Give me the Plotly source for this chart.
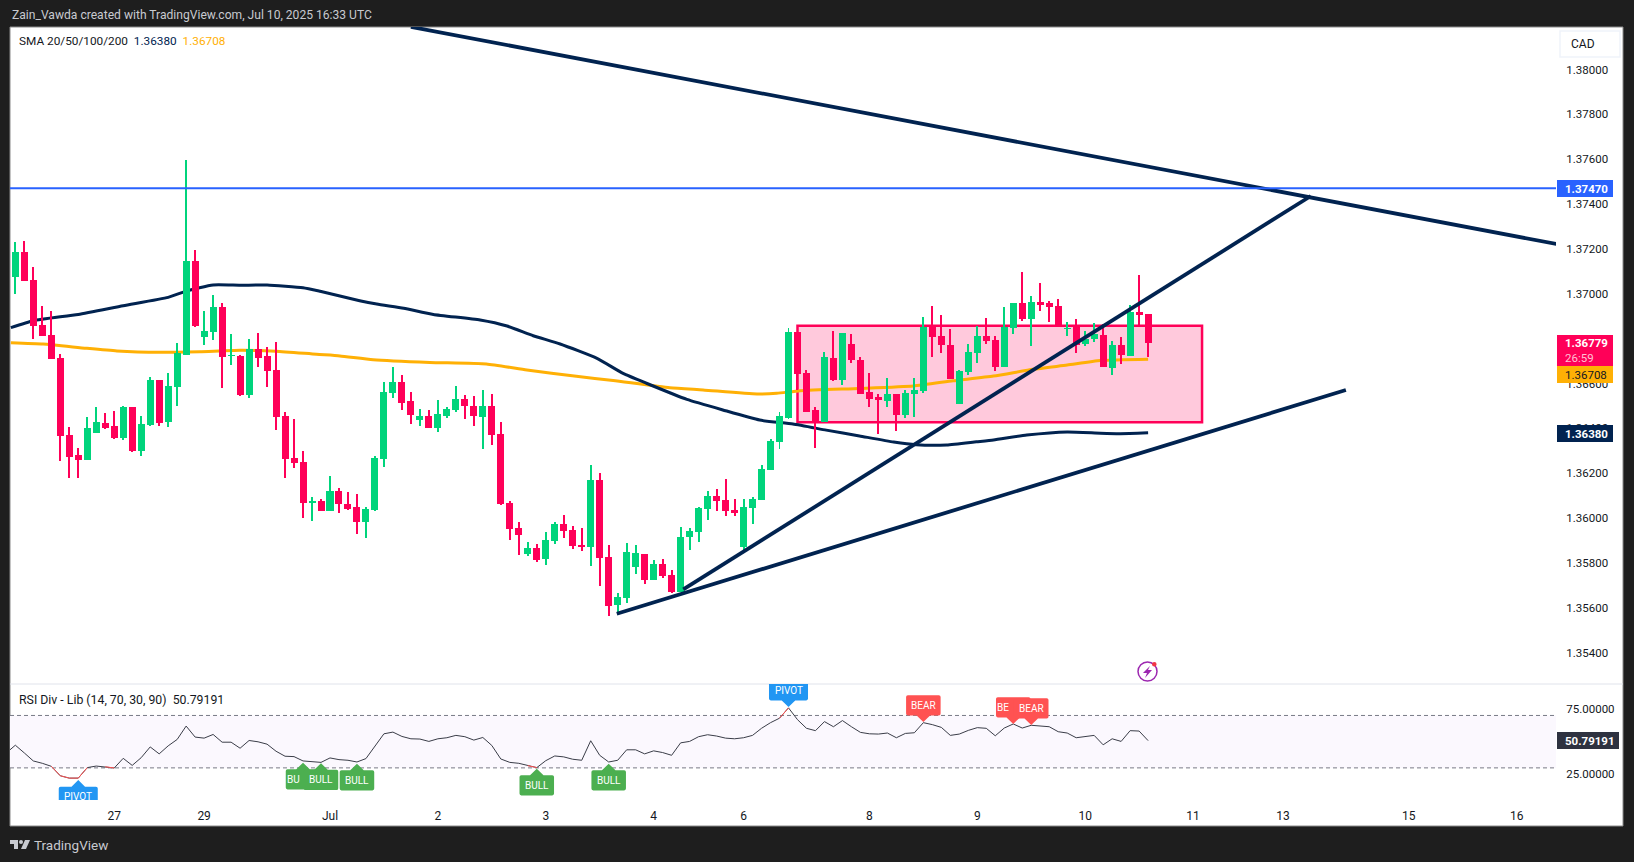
import plotly.graph_objs as go

W = 1634
H = 862
FONT = "Roboto"

OPEN = [1.37076,1.37186,1.37062,1.36861,1.36816,1.36714,1.36371,1.36281,1.36261,1.36381,1.36424,1.36411,1.36357,1.36495,1.36301,1.36415,1.36616,1.36430,1.36586,1.36729,
        1.37146,1.36809,1.36831,1.36941,1.36723,1.36723,1.36550,1.36754,1.36723,1.36660,1.36455,1.36268,1.36250,1.36069,1.36076,1.36033,1.36121,1.36063,1.36050,1.35984,
        1.36036,1.36264,1.36558,1.36607,1.36522,1.36437,1.36455,1.36402,1.36455,1.36482,1.36531,1.36500,1.36451,1.36500,1.36375,1.36067,1.35956,1.35840,1.35867,1.35818,
        1.35898,1.35974,1.35947,1.35880,1.35871,1.36170,1.35827,1.35613,1.35644,1.35782,1.35840,1.35724,1.35795,1.35746,1.35670,1.35915,1.35938,1.36040,1.36098,1.36080,
        1.36036,1.35871,1.36045,1.36080,1.36214,1.36339,1.36446,1.36829,1.36647,1.36482,1.36428,1.36713,1.36615,1.36776,1.36705,1.36562,1.36540,1.36522,1.36553,1.36459,
        1.36553,1.36566,1.36852,1.36812,1.36771,1.36508,1.36651,1.36736,1.36812,1.36794,1.36673,1.36847,1.36959,1.36887,1.36963,1.36959,1.36945,1.36843,1.36852,1.36776,
        1.36798,1.36816,1.36669,1.36771,1.36722,1.36919,1.36910]
HIGH = [1.37231,1.37235,1.37120,1.36946,1.36923,1.36732,1.36406,1.36313,1.36451,1.36495,1.36469,1.36478,1.36500,1.36495,1.36455,1.36629,1.36616,1.36647,1.36781,1.37596,
        1.37195,1.36923,1.36995,1.36959,1.36821,1.36727,1.36799,1.36825,1.36763,1.36785,1.36473,1.36442,1.36299,1.36094,1.36085,1.36188,1.36134,1.36116,1.36107,1.36050,
        1.36277,1.36607,1.36674,1.36638,1.36562,1.36486,1.36482,1.36527,1.36495,1.36589,1.36549,1.36544,1.36571,1.36553,1.36428,1.36076,1.35983,1.35893,1.35885,1.35938,
        1.35983,1.36014,1.35965,1.35956,1.36237,1.36201,1.35880,1.35666,1.35889,1.35880,1.35840,1.35813,1.35818,1.35768,1.35960,1.35956,1.36049,1.36121,1.36129,1.36174,
        1.36085,1.36085,1.36094,1.36236,1.36352,1.36473,1.36847,1.36829,1.36660,1.36495,1.36740,1.36834,1.36825,1.36820,1.36718,1.36647,1.36553,1.36624,1.36553,1.36571,
        1.36624,1.36896,1.36945,1.36905,1.36843,1.36660,1.36776,1.36856,1.36892,1.36812,1.36941,1.36959,1.37097,1.36990,1.37048,1.36968,1.36977,1.36874,1.36887,1.36834,
        1.36870,1.36865,1.36789,1.36807,1.36950,1.37084,1.36910]
LOW = [1.37001,1.37058,1.36800,1.36813,1.36711,1.36256,1.36180,1.36180,1.36261,1.36381,1.36397,1.36353,1.36348,1.36296,1.36277,1.36411,1.36411,1.36406,1.36500,1.36729,
       1.36852,1.36772,1.36794,1.36580,1.36683,1.36544,1.36535,1.36674,1.36585,1.36393,1.36179,1.36223,1.36001,1.35987,1.36033,1.36033,1.36024,1.36036,1.35929,1.35911,
       1.36032,1.36228,1.36535,1.36482,1.36420,1.36411,1.36402,1.36384,1.36446,1.36473,1.36442,1.36411,1.36308,1.36326,1.36058,1.35902,1.35836,1.35831,1.35804,1.35791,
       1.35885,1.35911,1.35862,1.35853,1.35786,1.35697,1.35564,1.35573,1.35622,1.35751,1.35706,1.35724,1.35733,1.35666,1.35670,1.35857,1.35893,1.35991,1.36031,1.36009,
       1.36009,1.35849,1.35973,1.36080,1.36214,1.36308,1.36442,1.36571,1.36473,1.36312,1.36428,1.36611,1.36593,1.36691,1.36553,1.36495,1.36375,1.36495,1.36388,1.36446,
       1.36450,1.36557,1.36718,1.36736,1.36620,1.36508,1.36638,1.36691,1.36776,1.36655,1.36673,1.36821,1.36878,1.36767,1.36923,1.36874,1.36856,1.36812,1.36736,1.36767,
       1.36785,1.36673,1.36638,1.36687,1.36722,1.36856,1.36718]
CLOSE = [1.37186,1.37058,1.36858,1.36813,1.36711,1.36368,1.36274,1.36261,1.36402,1.36428,1.36403,1.36357,1.36495,1.36301,1.36420,1.36616,1.36426,1.36589,1.36736,1.37146,
         1.36856,1.36834,1.36941,1.36720,1.36727,1.36550,1.36754,1.36715,1.36657,1.36452,1.36265,1.36247,1.36069,1.36076,1.36033,1.36121,1.36064,1.36041,1.35984,1.36041,
         1.36268,1.36562,1.36607,1.36513,1.36460,1.36455,1.36402,1.36464,1.36486,1.36531,1.36500,1.36455,1.36500,1.36370,1.36063,1.35951,1.35925,1.35867,1.35813,1.35902,
         1.35974,1.35943,1.35876,1.35871,1.36170,1.35822,1.35608,1.35648,1.35849,1.35844,1.35724,1.35795,1.35742,1.35670,1.35915,1.35942,1.36045,1.36098,1.36076,1.36031,
         1.36022,1.36049,1.36085,1.36219,1.36343,1.36455,1.36829,1.36642,1.36473,1.36428,1.36718,1.36615,1.36825,1.36705,1.36553,1.36531,1.36526,1.36553,1.36459,1.36557,
         1.36571,1.36852,1.36807,1.36771,1.36620,1.36655,1.36740,1.36812,1.36789,1.36673,1.36852,1.36959,1.36887,1.36963,1.36950,1.36941,1.36856,1.36847,1.36771,1.36798,
         1.36821,1.36673,1.36771,1.36727,1.36919,1.36905,1.36779]

SMA_NAVY_X = [-0.5,2,7,12,17,19,22,25,28,32,33.9,38.3,40.2,43.2,46.5,51.7,54.7,57.6,60.6,64.7,67.6,70.2,74.7,78.7,82.8,86.5,90.2,93.9,97.7,100.2,103.6,106.9,108.8,112.5,117,120.7,122.9,126]
SMA_NAVY = [1.36849,1.36880,1.36908,1.36947,1.36984,1.37012,1.37039,1.37038,1.37039,1.37027,1.37011,1.36969,1.36954,1.36935,1.36908,1.36883,1.36856,1.36813,1.36776,1.36712,1.36645,1.36601,1.36529,1.36482,1.36437,1.36419,1.36392,1.36366,1.36339,1.36327,1.36326,1.36340,1.36348,1.36370,1.36384,1.36378,1.36376,1.36380]
SMA_ORANGE_X = [-0.5,3.1,7.9,11.3,16.1,20.5,25,29,33.5,36.1,39.8,46.1,52.4,56.9,62.4,66.5,72.8,76.5,82.5,84.7,87.3,93.9,99.9,104.3,108.8,113.2,117,120.7,126]
SMA_ORANGE = [1.36782,1.36776,1.36757,1.36745,1.36739,1.36742,1.36748,1.36744,1.36730,1.36723,1.36706,1.36694,1.36687,1.36660,1.36632,1.36613,1.36581,1.36571,1.36553,1.36556,1.36568,1.36578,1.36589,1.36612,1.36633,1.36663,1.36682,1.36702,1.36708]

RSI_X = list(range(-1, 127))
RSI = [41.4,47.3,41.4,35.3,33.5,31.2,24.0,22.2,22.2,30.2,31.4,30.9,29.9,37.3,31.9,37.8,46.0,40.7,46.8,51.7,61.9,53.5,52.7,55.5,49.6,49.6,45.0,50.9,49.9,48.1,42.7,38.9,38.6,35.3,35.0,34.2,37.6,36.3,35.8,34.5,37.1,46.8,56.0,57.3,54.0,52.2,52.0,50.2,52.2,53.0,54.8,53.8,51.2,53.2,47.1,36.8,34.2,33.5,31.7,30.2,35.5,39.1,38.4,36.6,35.8,50.7,39.6,34.5,35.8,43.8,43.8,40.7,43.0,41.7,39.6,49.1,50.2,53.8,55.3,54.3,52.7,52.2,53.0,54.8,60.2,64.5,67.9,75.8,66.8,60.2,58.4,65.3,61.4,66.1,61.4,57.1,56.0,55.8,56.6,53.0,56.3,56.8,64.5,63.0,60.9,54.8,55.8,58.6,60.7,60.2,54.5,60.4,63.5,60.4,62.5,62.2,61.4,57.6,56.6,53.0,54.0,54.8,47.6,52.2,50.2,58.4,58.1,50.79]
RSI_RED = [(4, 8), (10, 11), (57, 58), (85, 86)]

# trendlines: [x0, x1], [price0, price1]
TREND_DOWN_X = [44.0, 171.4]
TREND_DOWN = [1.38190, 1.37222]
TREND_UP1_X = [74.3, 144.1]
TREND_UP1 = [1.35682, 1.37436]
TREND_UP2_X = [66.9, 148.0]
TREND_UP2 = [1.35573, 1.36571]
BOX_X = [87.0, 132.0]
BOX_Y = [1.36427, 1.36857]
RES_LEVEL = 1.37470

PRICE_TICKS = [1.380,1.378,1.376,1.374,1.372,1.370,1.368,1.366,1.364,1.362,1.360,1.358,1.356,1.354]
RSI_TICKS = [75, 25]
DATE_TICKS = [11,21,35,47,59,71,81,95,107,119,131,141,155,167]
DATE_LABELS = ["27","29","Jul","2","3","4","6","8","9","10","11","13","15","16"]

# rsi labels: text, bar index, tip value, pointing up?, colour
LABELS = [("PIVOT",7,20.7,True,"#2196f3"),("BU",32,34.0,True,"#4caf50"),("BULL",34,33.5,True,"#4caf50"),
          ("BULL",38,33.2,True,"#4caf50"),("BULL",58,29.4,True,"#4caf50"),("BULL",66,33.2,True,"#4caf50"),
          ("PIVOT",86,76.5,False,"#2196f3"),("BEAR",101,65.0,False,"#ff5252"),("BE",111,63.5,False,"#ff5252"),
          ("BEAR",113,62.7,False,"#ff5252")]

GREEN = "#00d47c"
RED = "#ff0058"
NAVY = "#012350"
ORANGE = "#ffb005"
BLUE = "#2962ff"
DARK = "#1e1e1e"

X_RANGE = [-0.593, 171.37]
Y_RANGE = [1.35260, 1.381895]
RSI_RANGE = [5.5, 94.0]

def px(x):
    return x / W

def py(y):
    return 1 - y / H

def candle_traces(keep, color):
    idx = [i for i in range(len(OPEN)) if keep(OPEN[i], CLOSE[i])]
    wick = go.Bar(x=idx, base=[LOW[i] for i in idx], y=[HIGH[i] - LOW[i] for i in idx], width=0.11,
                  marker=dict(color=color, line=dict(width=0)), yaxis="y2", xaxis="x", hoverinfo="skip")
    body = go.Bar(x=idx, base=[min(OPEN[i], CLOSE[i]) for i in idx], y=[abs(OPEN[i] - CLOSE[i]) for i in idx], width=0.78,
                  marker=dict(color=color, line=dict(width=0)), yaxis="y2", xaxis="x", hoverinfo="skip")
    return [wick, body]

fig = go.Figure()
fig.add_trace(go.Scatter(x=SMA_ORANGE_X, y=SMA_ORANGE, mode="lines", line=dict(color=ORANGE, width=3, shape="spline", smoothing=0.5), xaxis="x", yaxis="y"))
fig.add_trace(go.Scatter(x=SMA_NAVY_X, y=SMA_NAVY, mode="lines", line=dict(color=NAVY, width=3, shape="spline", smoothing=0.5), xaxis="x", yaxis="y"))
for t in candle_traces(lambda o, c: c >= o, GREEN) + candle_traces(lambda o, c: c < o, RED):
    fig.add_trace(t)
for tx, ty in [(TREND_DOWN_X, TREND_DOWN), (TREND_UP1_X, TREND_UP1), (TREND_UP2_X, TREND_UP2)]:
    fig.add_trace(go.Scatter(x=tx, y=ty, mode="lines", line=dict(color=NAVY, width=3.8), xaxis="x", yaxis="y3"))

# rsi pane
fig.add_trace(go.Scatter(x=RSI_X, y=RSI, mode="lines", line=dict(color="#3a3d48", width=1), xaxis="x2", yaxis="y4"))
for a, b in RSI_RED:
    i0 = RSI_X.index(a)
    i1 = RSI_X.index(b)
    fig.add_trace(go.Scatter(x=RSI_X[i0:i1 + 1], y=RSI[i0:i1 + 1], mode="lines", line=dict(color="#ff5252", width=1), xaxis="x2", yaxis="y4"))

shapes = []
annos = []

# white panel and separators
shapes.append(dict(type="rect", xref="paper", yref="paper", x0=px(10), x1=px(1623), y0=py(826), y1=py(27),
                   fillcolor="white", line=dict(color="#8a8a8a", width=1), layer="below"))
shapes.append(dict(type="line", xref="paper", yref="paper", x0=px(10), x1=px(1623), y0=py(684), y1=py(684),
                   line=dict(color="#e0e3eb", width=1), layer="below"))
shapes.append(dict(type="rect", xref="x", yref="y", x0=BOX_X[0], x1=BOX_X[1], y0=BOX_Y[0], y1=BOX_Y[1],
                   fillcolor="rgba(255,0,88,0.21)", line=dict(color="#ff0058", width=2.5), layer="below"))
shapes.append(dict(type="line", xref="x", yref="y3", x0=X_RANGE[0], x1=X_RANGE[1], y0=RES_LEVEL, y1=RES_LEVEL,
                   line=dict(color=BLUE, width=2), layer="above"))
shapes.append(dict(type="rect", xref="x2", yref="y4", x0=X_RANGE[0], x1=X_RANGE[1], y0=30, y1=70,
                   fillcolor="#fbf8fe", line=dict(width=0), layer="below"))
for lvl in [30, 70]:
    shapes.append(dict(type="line", xref="x2", yref="y4", x0=X_RANGE[0], x1=X_RANGE[1], y0=lvl, y1=lvl,
                       line=dict(color="#787b86", width=1, dash="4px,3px"), layer="below"))

# rsi labels as house shaped paths, clipped by the pane
for text, idx, tip, up, color in LABELS:
    half = 2.17 if text == "PIVOT" else 1.92
    sign = -1 if up else 1
    near = tip + sign * 5.0
    far = tip + sign * 20.4
    rx = 0.2
    ry = sign * 1.4
    path = ("M %f,%f L %f,%f L %f,%f Q %f,%f %f,%f L %f,%f Q %f,%f %f,%f L %f,%f Q %f,%f %f,%f "
            "L %f,%f Q %f,%f %f,%f L %f,%f Z") % (
        idx, tip, idx + 0.75, near, idx + half - rx, near, idx + half, near, idx + half, near + ry,
        idx + half, far - ry, idx + half, far, idx + half - rx, far,
        idx - half + rx, far, idx - half, far, idx - half, far - ry,
        idx - half, near + ry, idx - half, near, idx - half + rx, near, idx - 0.75, near)
    shapes.append(dict(type="path", path=path, xref="x2", yref="y4", fillcolor=color, line=dict(width=0), layer="above"))
    tx = idx - 1.1 if text in ("BU", "BE") else idx
    annos.append(dict(x=tx, y=(near + far) / 2, xref="x2", yref="y4", text=text, showarrow=False, yanchor="middle",
                      font=dict(family=FONT, size=10, color="white")))

def tag(text, y0, y1, bg, x0=1557, x1=1613, color="white", bold=False, size=11.5):
    shapes.append(dict(type="rect", xref="paper", yref="paper", x0=px(x0), x1=px(x1), y0=py(y1), y1=py(y0),
                       fillcolor=bg, line=dict(width=0), layer="above"))
    annos.append(dict(x=px(x0 + 6), y=py((y0 + y1) / 2), xref="paper", yref="paper", xanchor="left", yanchor="middle",
                      text="<b>%s</b>" % text if bold else text, showarrow=False, align="left",
                      font=dict(family=FONT, size=size, color=color)))

tag("1.37470", 180, 197, BLUE, bold=True)
tag("1.36779", 335, 351, RED, bold=True)
shapes.append(dict(type="rect", xref="paper", yref="paper", x0=px(1557), x1=px(1613), y0=py(366), y1=py(351),
                   fillcolor=RED, line=dict(width=0), layer="above"))
annos.append(dict(x=px(1563), y=py(358), xref="paper", yref="paper", xanchor="left", yanchor="middle", text="26:59", showarrow=False,
                  font=dict(family=FONT, size=11.5, color="#ffc0d4")))
tag("1.36708", 366, 383, ORANGE, color="#131722")
tag("1.36380", 425, 442, NAVY, bold=True)
tag("50.79191", 732, 749, "#2e3240", x0=1557, x1=1619, bold=True)

# CAD box
shapes.append(dict(type="rect", xref="paper", yref="paper", x0=px(1560), x1=px(1620), y0=py(57), y1=py(31),
                   fillcolor="white", line=dict(color="#f0f3fa", width=1.5), layer="above"))
annos.append(dict(x=px(1569), y=py(44), xref="paper", yref="paper", xanchor="left", yanchor="middle", text="CAD", showarrow=False,
                  font=dict(family=FONT, size=12, color="#131722")))

# header, legends, footer
annos.append(dict(x=px(10), y=py(15), xref="paper", yref="paper", xanchor="left", yanchor="middle", showarrow=False,
                  text="Zain_Vawda created with TradingView.com, Jul 10, 2025 16:33 UTC",
                  font=dict(family=FONT, size=12.1, color="#c8cad0")))
annos.append(dict(x=px(16.5), y=py(41.5), xref="paper", yref="paper", xanchor="left", yanchor="middle", showarrow=False,
                  text="SMA 20/50/100/200  <span style='color:%s'>1.36380</span>  <span style='color:%s'>1.36708</span>" % (NAVY, ORANGE),
                  font=dict(family=FONT, size=11.8, color="#131722")))
annos.append(dict(x=px(16.5), y=py(700), xref="paper", yref="paper", xanchor="left", yanchor="middle", showarrow=False,
                  text="RSI Div - Lib (14, 70, 30, 90)  50.79191",
                  font=dict(family=FONT, size=12.3, color="#131722")))
annos.append(dict(x=px(32), y=py(844.5), xref="paper", yref="paper", xanchor="left", yanchor="middle", showarrow=False,
                  text="TradingView", font=dict(family=FONT, size=13.5, color="#c8cad0")))

# logo
def pxpath(points):
    return "M " + " L ".join("%f,%f" % (px(a), py(b)) for a, b in points) + " Z"

shapes.append(dict(type="path", xref="paper", yref="paper", fillcolor="#c8cad0", line=dict(width=0), layer="above",
                   path=pxpath([(10, 840), (18, 840), (18, 849), (14, 849), (14, 844), (10, 844)])))
shapes.append(dict(type="path", xref="paper", yref="paper", fillcolor="#c8cad0", line=dict(width=0), layer="above",
                   path=pxpath([(25, 840), (30, 840), (26, 849), (21, 849)])))
shapes.append(dict(type="circle", xref="paper", yref="paper", fillcolor="#c8cad0", line=dict(width=0), layer="above",
                   x0=px(19), x1=px(23), y0=py(844), y1=py(840)))

# flash icon
shapes.append(dict(type="circle", xref="paper", yref="paper", fillcolor="white", line=dict(color="#9c27b0", width=1.5), layer="above",
                   x0=px(1138), x1=px(1157), y0=py(681), y1=py(662)))
shapes.append(dict(type="path", xref="paper", yref="paper", fillcolor="#9c27b0", line=dict(width=0), layer="above",
                   path=pxpath([(1150, 666), (1143, 673), (1147, 673), (1145, 678), (1152, 670), (1148, 670)])))
shapes.append(dict(type="circle", xref="paper", yref="paper", fillcolor="#f23645", line=dict(width=0), layer="above",
                   x0=px(1152), x1=px(1156.6), y0=py(666.6), y1=py(662)))

main_dom = [py(684), py(27)]
rsi_dom = [py(800), py(684)]
x_dom = [px(10), px(1556)]
hidden_y = dict(domain=main_dom, range=Y_RANGE, overlaying="y", visible=False, fixedrange=True)

fig.update_layout(
    width=W, height=H, margin=dict(l=0, r=0, t=0, b=0), autosize=False,
    paper_bgcolor=DARK, plot_bgcolor="rgba(0,0,0,0)", showlegend=False, barmode="overlay",
    bargap=0, hovermode=False,
    xaxis=dict(domain=x_dom, range=X_RANGE, anchor="y", showgrid=False, zeroline=False, showticklabels=False, ticks="", showline=False),
    xaxis2=dict(domain=x_dom, range=X_RANGE, anchor="y4", showgrid=False, zeroline=False, tickmode="array",
                tickvals=DATE_TICKS, ticktext=DATE_LABELS, ticks="outside", ticklen=5, tickcolor="rgba(0,0,0,0)",
                tickfont=dict(family=FONT, size=12, color="#131722"), showline=False),
    yaxis=dict(domain=main_dom, range=Y_RANGE, anchor="x", side="right", showgrid=False, zeroline=False, tickmode="array",
               tickvals=PRICE_TICKS, ticktext=["%.5f" % v for v in PRICE_TICKS], ticks="outside", ticklen=7,
               tickcolor="rgba(0,0,0,0)", tickfont=dict(family=FONT, size=11.5, color="#131722"), showline=False),
    yaxis2=hidden_y,
    yaxis3=hidden_y,
    yaxis4=dict(domain=rsi_dom, range=RSI_RANGE, anchor="x2", side="right", showgrid=False, zeroline=False, tickmode="array",
                tickvals=RSI_TICKS, ticktext=["%.5f" % v for v in RSI_TICKS], ticks="outside", ticklen=7,
                tickcolor="rgba(0,0,0,0)", tickfont=dict(family=FONT, size=11.5, color="#131722"), showline=False),
    shapes=shapes,
    annotations=annos,
)

fig.write_html("out.html", config=dict(displayModeBar=False),
               post_script="document.body.style.margin='0';document.body.style.background='%s';" % DARK)
